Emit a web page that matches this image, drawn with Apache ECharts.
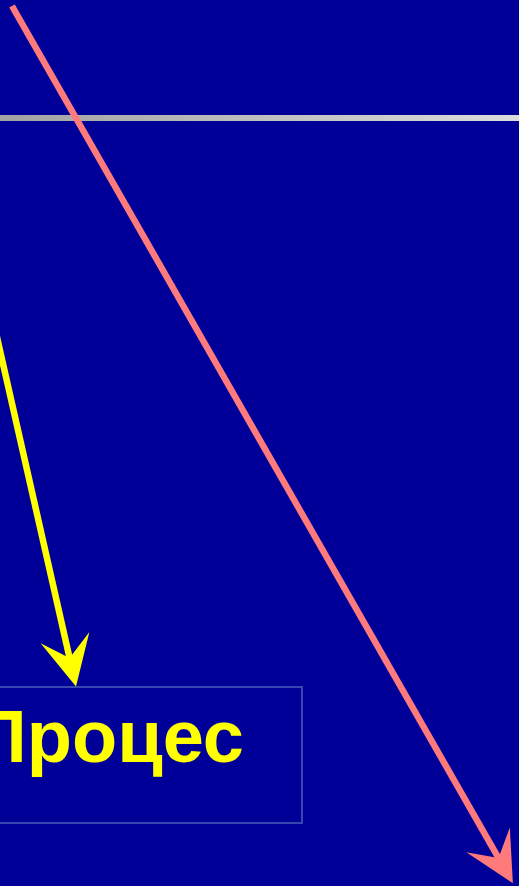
<!DOCTYPE html>
<html>
<head>
<meta charset="utf-8">
<script src="https://cdn.jsdelivr.net/npm/echarts@6/dist/echarts.min.js"></script>
<style>
  html, body { margin: 0; padding: 0; background: #000099; }
  #chart { width: 519px; height: 886px; }
</style>
</head>
<body>
<div id="chart"></div>
<script>
// positions in the picture's own units (px from top-left)
var pinkArrow = [[12, 6], [500.5, 861.5]]     // end = centre of the head
var yellowArrow = [[-20, 262], [70.5, 662]]
var grayRule = [[0, 118], [519, 118]]
var boxCorners = [[-100, 687], [302, 823]]
var boxLabel = 'Процес'

// arrow head, tip at top, notch at ~58%
var head = 'path://M0,0 L18,50 L0,29 L-18,50 Z'

var chart = echarts.init(document.getElementById('chart'))
chart.setOption({
  backgroundColor: '#000099',
  animation: false,
  grid: { left: 0, right: 0, top: 0, bottom: 0 },
  xAxis: { type: 'value', min: 0, max: 519, show: false },
  yAxis: { type: 'value', min: 0, max: 886, inverse: true, show: false },
  series: [
    {
      type: 'custom',
      renderItem: function (params, api) {
        var p0 = api.coord(boxCorners[0])
        var p1 = api.coord(boxCorners[1])
        return {
          type: 'group',
          children: [
            {
              type: 'rect',
              shape: { x: p0[0], y: p0[1], width: p1[0] - p0[0], height: p1[1] - p0[1] },
              style: { fill: null, stroke: '#3A46B0', lineWidth: 2 }
            },
            {
              type: 'text',
              style: {
                x: 244,
                y: (p0[1] + p1[1]) / 2 - 13,
                text: boxLabel,
                fill: '#FFFF00',
                font: 'bold 74px "Liberation Sans", Arial, sans-serif',
                align: 'right',
                verticalAlign: 'middle'
              }
            }
          ]
        }
      },
      data: [0]
    },
    {
      type: 'lines',
      coordinateSystem: 'cartesian2d',
      symbol: ['none', 'none'],
      lineStyle: {
        width: 6,
        opacity: 1,
        color: new echarts.graphic.LinearGradient(0, 0, 1, 0, [
          { offset: 0, color: '#A2A2A2' },
          { offset: 1, color: '#DCDCDC' }
        ])
      },
      data: [{ coords: grayRule }]
    },
    {
      type: 'lines',
      coordinateSystem: 'cartesian2d',
      symbol: ['none', head],
      symbolSize: [36, 50],
      lineStyle: { width: 6.5, color: '#FFFF00', opacity: 1, cap: 'butt' },
      data: [{ coords: yellowArrow }]
    },
    {
      type: 'lines',
      coordinateSystem: 'cartesian2d',
      symbol: ['none', head],
      symbolSize: [36, 50],
      lineStyle: { width: 6.5, color: '#FF7B7B', opacity: 1, cap: 'butt' },
      data: [{ coords: pinkArrow }]
    }
  ]
})
</script>
</body>
</html>
